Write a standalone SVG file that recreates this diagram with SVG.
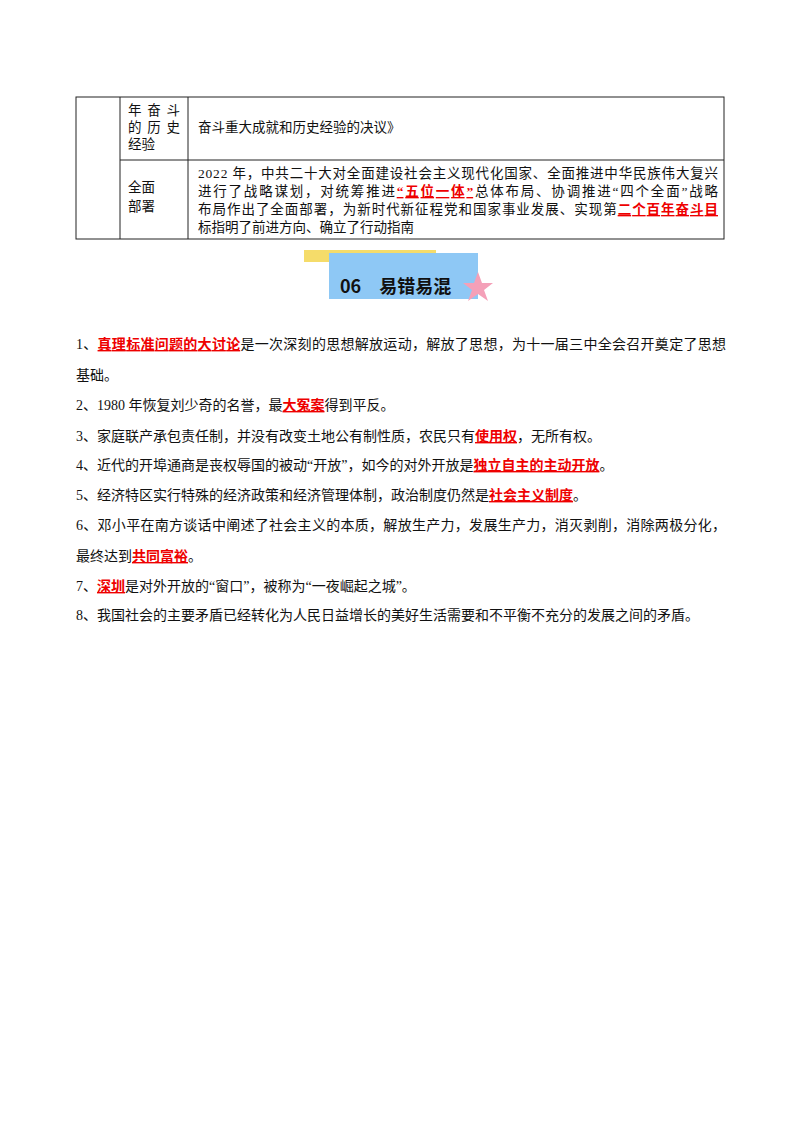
<svg xmlns="http://www.w3.org/2000/svg" width="800" height="1132" viewBox="0 0 800 1132">
<style>
text{font-family:"Liberation Serif","Noto Sans CJK SC",serif;font-size:13.5px;fill:#111}
.b{font-size:14px}
.r{fill:#e00;font-weight:bold;text-decoration:underline}
.ln{stroke:#222;stroke-width:1;fill:none}
</style>
<rect width="800" height="1132" fill="#fff"/>
<g id="table">
<rect class="ln" x="76" y="97" width="648" height="142"/>
<line class="ln" x1="120" y1="97" x2="120" y2="239"/>
<line class="ln" x1="188" y1="97" x2="188" y2="239"/>
<line class="ln" x1="120" y1="160" x2="724" y2="160"/>
<text x="128" y="115" textLength="52" lengthAdjust="spacing">年奋斗</text>
<text x="128" y="132" textLength="52" lengthAdjust="spacing">的历史</text>
<text x="128" y="149">经验</text>
<text x="198" y="132">奋斗重大成就和历史经验的决议》</text>
<text x="128" y="192">全面</text>
<text x="128" y="211">部署</text>
<text x="198" y="178" textLength="520" lengthAdjust="spacing">2022 年，中共二十大对全面建设社会主义现代化国家、全面推进中华民族伟大复兴</text>
<text x="198" y="196" textLength="520" lengthAdjust="spacing">进行了战略谋划，对统筹推进<tspan class="r">“五位一体”</tspan>总体布局、协调推进“四个全面”战略</text>
<text x="198" y="214" textLength="520" lengthAdjust="spacing">布局作出了全面部署，为新时代新征程党和国家事业发展、实现第<tspan class="r">二个百年奋斗目</tspan></text>
<text x="198" y="232">标指明了前进方向、确立了行动指南</text>
</g>
<g id="title">
<rect x="304" y="250" width="132" height="12" fill="#f5dc6a"/>
<rect x="329" y="253" width="149" height="46" fill="#8ec8f5"/>
<polygon points="478,272 482,283 493,283 484,290 488,301 478,294 468,301 472,290 463,283 474,283" fill="#f4a0b8"/>
<text x="340" y="293" style="font-family:'Noto Sans CJK SC',sans-serif;font-size:18px;font-weight:bold">06　易错易混</text>
</g>
<g id="list">
<text class="b" x="76" y="349" textLength="650" lengthAdjust="spacing">1、<tspan class="r">真理标准问题的大讨论</tspan>是一次深刻的思想解放运动，解放了思想，为十一届三中全会召开奠定了思想</text>
<text class="b" x="76" y="380">基础。</text>
<text class="b" x="76" y="410">2、1980 年恢复刘少奇的名誉，最<tspan class="r">大冤案</tspan>得到平反。</text>
<text class="b" x="76" y="441">3、家庭联产承包责任制，并没有改变土地公有制性质，农民只有<tspan class="r">使用权</tspan>，无所有权。</text>
<text class="b" x="76" y="470">4、近代的开埠通商是丧权辱国的被动“开放”，如今的对外开放是<tspan class="r">独立自主的主动开放</tspan>。</text>
<text class="b" x="76" y="500">5、经济特区实行特殊的经济政策和经济管理体制，政治制度仍然是<tspan class="r">社会主义制度</tspan>。</text>
<text class="b" x="76" y="530" textLength="650" lengthAdjust="spacing">6、邓小平在南方谈话中阐述了社会主义的本质，解放生产力，发展生产力，消灭剥削，消除两极分化，</text>
<text class="b" x="76" y="561">最终达到<tspan class="r">共同富裕</tspan>。</text>
<text class="b" x="76" y="591">7、<tspan class="r">深圳</tspan>是对外开放的“窗口”，被称为“一夜崛起之城”。</text>
<text class="b" x="76" y="620">8、我国社会的主要矛盾已经转化为人民日益增长的美好生活需要和不平衡不充分的发展之间的矛盾。</text>
</g>
</svg>
